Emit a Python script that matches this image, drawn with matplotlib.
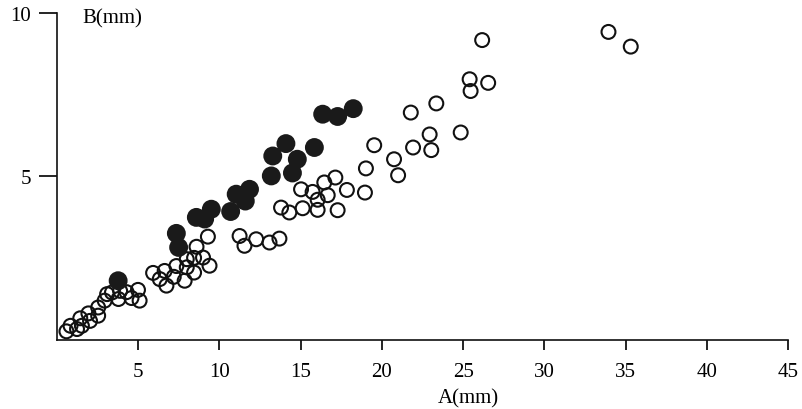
import matplotlib.pyplot as plt

# open circles
open_a = [0.6, 0.85, 1.25, 1.45, 1.55, 1.95, 2.05, 2.55, 2.55, 2.95, 3.1, 3.4,
          3.8, 3.9, 4.3, 4.6, 5.0, 5.1,
          5.93, 6.34, 6.64, 6.75, 7.2, 7.36, 7.87, 8.0, 8.0, 8.45, 8.45, 8.6,
          9.0, 9.4, 9.3,
          11.25, 11.55, 12.27, 13.09, 13.7,
          13.8, 14.31, 15.13, 16.05, 17.28, 15.03, 15.74, 16.05, 16.46, 16.67,
          17.14, 17.85, 18.96, 19.02, 19.53, 20.75, 21.0, 21.92, 23.04, 22.94,
          24.85, 21.78, 23.35, 25.46, 25.4, 26.54, 26.17, 33.94, 35.31]
open_b = [0.25, 0.42, 0.32, 0.65, 0.42, 0.8, 0.57, 0.73, 0.98, 1.19, 1.39, 1.44,
          1.24, 1.49, 1.45, 1.27, 1.52, 1.19,
          2.04, 1.85, 2.1, 1.65, 1.92, 2.25, 1.8, 2.21, 2.46, 2.05, 2.5, 2.84,
          2.51, 2.26, 3.15,
          3.17, 2.87, 3.07, 2.97, 3.09,
          4.04, 3.89, 4.02, 3.97, 3.96, 4.6, 4.52, 4.28, 4.81, 4.42,
          4.96, 4.58, 4.5, 5.24, 5.95, 5.52, 5.03, 5.88, 5.8, 6.28,
          6.34, 6.95, 7.23, 7.61, 7.97, 7.86, 9.17, 9.42, 8.97]

# filled circles
fill_a = [3.78, 7.36, 7.5, 8.59, 9.1, 9.51, 10.7, 11.04, 11.6, 11.86, 13.2,
          13.29, 14.1, 14.5, 14.8, 15.85, 16.36, 17.28, 18.24]
fill_b = [1.80, 3.25, 2.82, 3.74, 3.69, 3.99, 3.92, 4.45, 4.24, 4.6, 5.01,
          5.62, 6.0, 5.1, 5.52, 5.88, 6.9, 6.83, 7.07]

x_ticks = [5, 10, 15, 20, 25, 30, 35, 40, 45]
y_ticks = [5, 10]

plt.rcParams['font.family'] = ['Liberation Serif', 'DejaVu Serif']

fig = plt.figure(figsize=(8.02, 4.10), dpi=100)
ax = fig.add_axes([0.0707, 0.1695, 0.9122, 0.7964])

ax.scatter(open_a, open_b, s=100, facecolors='none', edgecolors='#111111',
           linewidths=1.5, zorder=2)
ax.scatter(fill_a, fill_b, s=185, color='#1a1a1a', edgecolors='none', zorder=3)

ax.set_xlim(0, 45)
ax.set_ylim(0, 10)
ax.set_xticks(x_ticks)
ax.set_yticks(y_ticks)
ax.tick_params(axis='x', length=7.2, width=1.2, pad=9, labelsize=15)
ax.tick_params(axis='y', length=13, width=1.2, pad=5.5, labelsize=15)

for side in ['top', 'right']:
    ax.spines[side].set_visible(False)
for side in ['left', 'bottom']:
    ax.spines[side].set_linewidth(1.2)
    ax.spines[side].set_color('#111111')

ax.text(1.55, 9.85, 'B(mm)', fontsize=15, ha='left', va='center')
ax.text(25.3, -1.8, 'A(mm)', fontsize=15, ha='center', va='center')

fig.savefig('out.png', dpi=100)
